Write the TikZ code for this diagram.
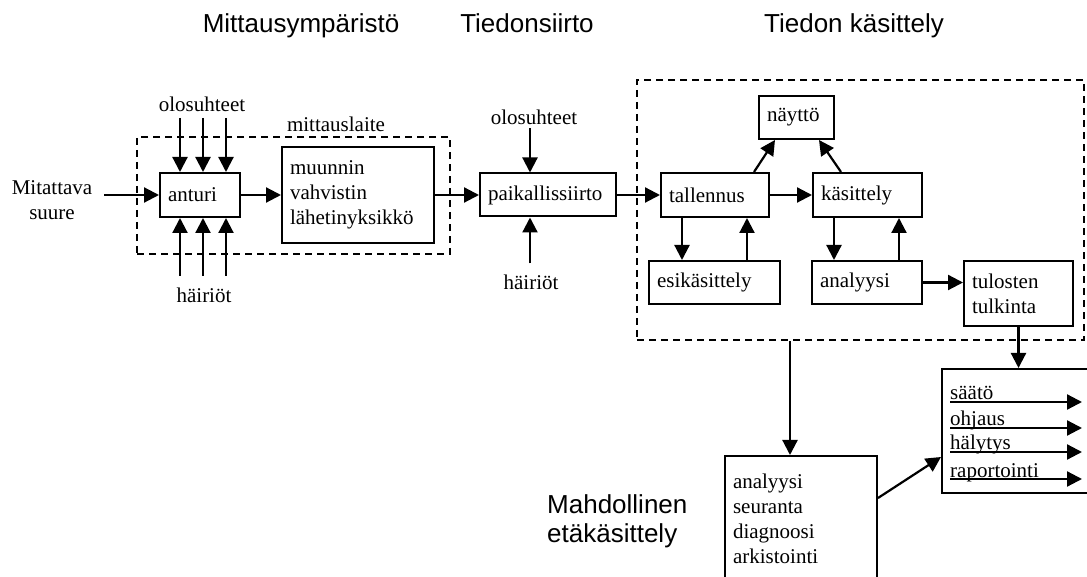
\documentclass[tikz,border=0pt]{standalone}
\usepackage{fontspec}
\setmainfont{Liberation Serif}
\newfontfamily\headfont{Liberation Sans}
\usetikzlibrary{positioning,arrows.meta,calc}

\begin{document}
\begin{tikzpicture}[
    x=1pt, y=1pt,
    font=\fontsize{21}{25}\selectfont,
    block/.style={draw, line width=2pt, align=left, inner sep=8pt, minimum height=44pt},
    frame/.style={draw, line width=2pt, dash pattern=on 7pt off 5pt, inner sep=0pt},
    lbl/.style={inner sep=0pt, anchor=base},
    head/.style={inner sep=0pt, anchor=base, font=\headfont\fontsize{26}{29}\selectfont},
    arrow/.style={-{Triangle[length=15pt,width=15pt]}, line width=2.2pt}
]
\useasboundingbox (0,0) rectangle (1087,576);

% Headers
\node[head] (hmitt) at (301,543) {Mittausympäristö};
\node[head] (hsiirto) at (527,543) {Tiedonsiirto};
\node[head] (hkas) at (854,543) {Tiedon käsittely};
\node[head, anchor=base west] (mahd) at (547,63) {Mahdollinen};
\node[head, anchor=base west] (etak) at (547,34) {etäkäsittely};

% Frames
\node[frame, minimum width=313pt, minimum height=117pt] (laite) at (293.5,380.5) {};
\node[lbl] (laitelbl) at (336,444) {mittauslaite};
\node[frame, minimum width=447pt, minimum height=260pt] (kasalue) at (860.5,366) {};

% Nodes
\node[inner sep=0pt, align=center] (suure) at (52,376) {Mitattava\\suure};
\node[block, text width=64pt] (anturi) at (200,381) {anturi};
\node[block, text width=136pt, minimum height=96pt] (muunnin) at (358,381) {muunnin\\vahvistin\\lähetinyksikkö};
\node[block, text width=120pt, minimum height=43pt] (paik) at (548,381) {paikallissiirto};
\node[block, text width=92pt] (tallennus) at (715,381) {tallennus};
\node[block, text width=93pt] (kasittely) at (867.5,381) {käsittely};
\node[block, text width=59pt, minimum height=43pt] (naytto) at (796.5,458.5) {näyttö};
\node[block, text width=115pt, minimum height=43pt] (esik) at (714.5,293.5) {esikäsittely};
\node[block, text width=94pt, minimum height=43pt] (analyysi) at (867,293.5) {analyysi};
\node[block, text width=93pt, minimum height=65pt] (tulkinta) at (1018.5,282.5) {tulosten\\tulkinta};
\node[block, minimum width=158pt, minimum height=124pt] (tulos) at (1021,145) {};
\node[block, text width=136pt, minimum height=125pt] (remote) at (801,57.5) {analyysi\\seuranta\\diagnoosi\\arkistointi};

\node[lbl] (olos) at (202,464) {olosuhteet};
\node[lbl] (hairiot) at (204,273) {häiriöt};
\node[lbl] (olos2) at (534,451) {olosuhteet};
\node[lbl] (hairiot2) at (531,286) {häiriöt};

% Arrows
\draw[arrow] ([xshift=12pt]suure.east |- anturi.west) -- (anturi.west);
\foreach \dx in {-20,3,26} {
    \draw[arrow] ($(anturi.north)+(\dx,54)$) -- ($(anturi.north)+(\dx,0)$);
    \draw[arrow] ($(anturi.south)+(\dx,-58)$) -- ($(anturi.south)+(\dx,0)$);
}
\draw[arrow] ($(paik.north)+(-18,44)$) -- ($(paik.north)+(-18,0)$);
\draw[arrow] ($(paik.south)+(-18,-46)$) -- ($(paik.south)+(-18,0)$);

\draw[arrow] (anturi.east) -- (muunnin.west);
\draw[arrow] (muunnin.east) -- (paik.west);
\draw[arrow] (paik.east) -- (tallennus.west);
\draw[arrow] (tallennus.east) -- (kasittely.west);
\draw[arrow] ($(tallennus.north)+(39,0)$) -- ($(naytto.south)+(-21.5,0)$);
\draw[arrow] ($(kasittely.north)+(-26.5,0)$) -- ($(naytto.south)+(22.5,0)$);
\draw[arrow] ([xshift=-33pt]tallennus.south) -- ([xshift=-33pt]tallennus.south |- esik.north);
\draw[arrow] ([xshift=32pt]tallennus.south |- esik.north) -- ([xshift=32pt]tallennus.south);
\draw[arrow] ([xshift=-33.5pt]kasittely.south) -- ([xshift=-33.5pt]kasittely.south |- analyysi.north);
\draw[arrow] ([xshift=31.5pt]kasittely.south |- analyysi.north) -- ([xshift=31.5pt]kasittely.south);
\draw[arrow] (analyysi.east) -- (analyysi.east -| tulkinta.west);
\draw[arrow] (tulkinta.south) -- (tulkinta.south |- tulos.north);
\draw[arrow] ([xshift=-11pt]remote.north |- kasalue.south) -- ([xshift=-11pt]remote.north);
\draw[arrow] ([yshift=20.5pt]remote.east) -- ([yshift=-26pt]tulos.west);

% Outputs
\foreach \name/\txt/\y in {saato/säätö/174, ohjaus/ohjaus/148, halytys/hälytys/124, raport/raportointi/97} {
    \node[inner sep=0pt, anchor=base west] (\name) at (950,\y+2) {\txt};
    \coordinate (\name out) at (1082,\y);
    \draw[arrow] (\name.base west |- \name out) -- (\name out);
}

\end{tikzpicture}
\end{document}
